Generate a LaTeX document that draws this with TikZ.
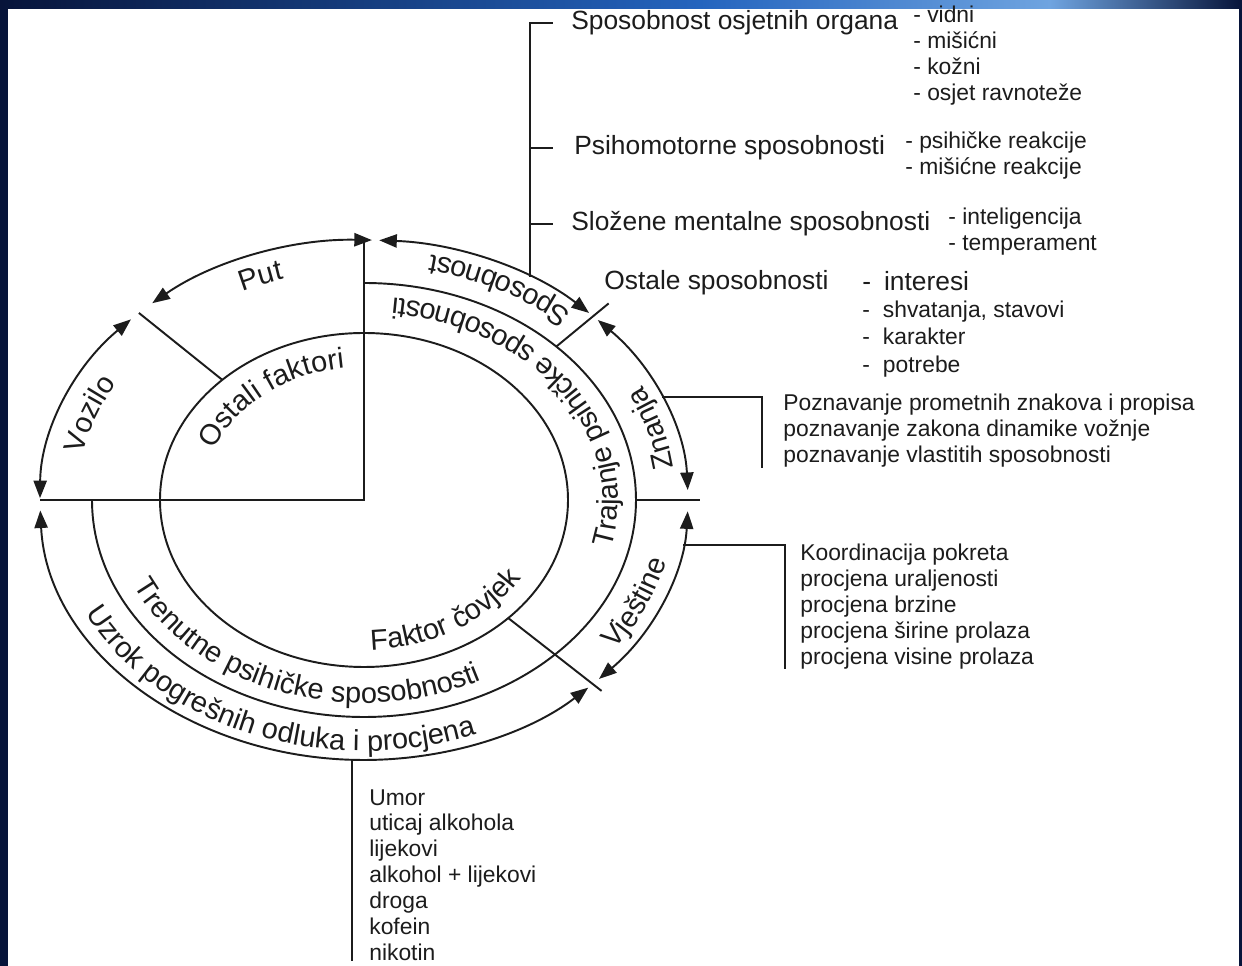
\documentclass[tikz,border=0pt]{standalone}
\usepackage{fontspec}
\setmainfont{Liberation Sans}
\usetikzlibrary{arrows.meta,decorations.text}

\definecolor{ink}{HTML}{1C1C1C}
\definecolor{navy}{HTML}{07143A}
\definecolor{slide}{HTML}{2464BE}
\definecolor{glow}{HTML}{6FA4E0}

\newcommand{\lbl}{\fontsize{15}{18}\selectfont}
\newcommand{\arclbl}{\fontsize{16.5}{19}\selectfont}
\newcommand{\lst}{\fontsize{13}{14.7}\selectfont}
\newcommand{\crt}{-\hspace{0.26cm}}

\tikzset{
  ring/.style={line width=1.1pt, draw=ink},
  arc arrow/.style={ring, {Triangle[length=10pt,width=7.5pt]}-{Triangle[length=10pt,width=7.5pt]}},
  lab/.style={font=\lbl, text=ink, inner sep=0pt, anchor=base west},
  items/.style={font=\lst, text=ink, inner sep=0pt, anchor=north west, align=left},
  along/.style={decorate, decoration={text along path, text align=center, text={|\arclbl\color{ink}|#1}}}
}

\begin{document}
\begin{tikzpicture}[x=0.02cm, y=0.02cm]
  \useasboundingbox (-364,-466) rectangle (878,500);
  % slide frame
  \fill[white] (-364,-466) rectangle (878,500);
  \shade[left color=navy, right color=slide] (-364,491) rectangle (336,500);
  \shade[left color=slide, right color=glow] (336,491) rectangle (686,500);
  \shade[left color=glow, right color=navy] (686,491) rectangle (878,500);
  \fill[navy] (-364,-466) rectangle (-356,491);
  \fill[navy] (875,-466) rectangle (878,491);

  % rings and sectors
  \draw[ring] (0,0) ellipse [x radius=204, y radius=167];
  \draw[ring] (0,217) arc[start angle=90, end angle=-180, x radius=272, y radius=217];
  \draw[ring] (90:324 and 260) -- (0,0) -- (180:324 and 260);
  \draw[ring] (134:324 and 260) -- (134:204 and 167);
  \draw[ring] (45:272 and 217) -- (45:346 and 278);
  \draw[ring] (0:272 and 217) -- (0:336 and 270);
  \draw[ring] (-45:204 and 167) -- (-45:336 and 270);

  % outer arrows
  \draw[arc arrow] (88.6:324 and 260) arc[start angle=88.6, end angle=130.8, x radius=324, y radius=260];
  \draw[arc arrow] (136:324 and 260) arc[start angle=136, end angle=179.6, x radius=324, y radius=260];
  \draw[arc arrow] (182.3:324 and 260) arc[start angle=182.3, end angle=313.8, x radius=324, y radius=260];
  \draw[arc arrow] (316.5:324 and 260) arc[start angle=316.5, end angle=357.5, x radius=324, y radius=260];
  \draw[arc arrow] (2.2:324 and 260) arc[start angle=2.2, end angle=43.8, x radius=324, y radius=260];
  \draw[arc arrow] (46:324 and 260) arc[start angle=46, end angle=87.3, x radius=324, y radius=260];

  % texts along the rings
  \path[along=Put] (131:287 and 230) arc[start angle=131, end angle=91, x radius=287, y radius=230];
  \path[along=Vozilo] (180:287 and 230) arc[start angle=180, end angle=139, x radius=287, y radius=230];
  \path[along=Ostali faktori] (178:162 and 133) arc[start angle=178, end angle=80, x radius=162, y radius=133];
  \path[along=Faktor čovjek] (-100:184 and 150) arc[start angle=-100, end angle=-17, x radius=184, y radius=150];
  \path[along=Trajanje psihičke sposobnosti] (-38:254 and 203) arc[start angle=-38, end angle=104, x radius=254, y radius=203];
  \path[along=Trenutne psihičke sposobnosti] (185:254 and 203) arc[start angle=185, end angle=315, x radius=254, y radius=203];
  \path[along=Sposobnost] (38:312 and 251) arc[start angle=38, end angle=87, x radius=312, y radius=251];
  \path[along=Znanja] (0:312 and 251) arc[start angle=0, end angle=34, x radius=312, y radius=251];
  \path[along=Vještine] (-45:312 and 251) arc[start angle=-45, end angle=-5, x radius=312, y radius=251];
  \path[along=Uzrok pogrešnih odluka i procjena] (185:312 and 251) arc[start angle=185, end angle=310, x radius=312, y radius=251];

  % labels and lists
  \node[lab] (sens) at (207,470) {Sposobnost osjetnih organa};
  \node[lab] (psiho) at (210,345) {Psihomotorne sposobnosti};
  \node[lab] (mental) at (207,269) {Složene mentalne sposobnosti};
  \node[lab] (ostale) at (240,210) {Ostale sposobnosti};
  \node[items] (organi) at (549,494) {- vidni\\- mišićni\\- kožni\\- osjet ravnoteže};
  \node[items] (reakcije) at (541,368) {- psihičke reakcije\\- mišićne reakcije};
  \node[items] (osobine) at (584,292) {- inteligencija\\- temperament};
  \node[items, font=\fontsize{13}{15.5}\selectfont] (stavovi) at (498,229)
    {{\lbl\crt interesi}\\\crt shvatanja, stavovi\\\crt karakter\\\crt potrebe};
  \node[items] (znanja) at (419,106)
    {Poznavanje prometnih znakova i propisa\\poznavanje zakona dinamike vožnje\\poznavanje vlastitih sposobnosti};
  \node[items] (vjestine) at (436,-44)
    {Koordinacija pokreta\\procjena uraljenosti\\procjena brzine\\procjena širine prolaza\\procjena visine prolaza};
  \node[items] (uzroci) at (5,-289)
    {Umor\\uticaj alkohola\\lijekovi\\alkohol + lijekovi\\droga\\kofein\\nikotin};

  % connectors
  \coordinate (spine) at (59.2:324 and 260);
  \coordinate (zn) at (23.3:324 and 260);
  \coordinate (vj) at (-10:324 and 260);
  \coordinate (uz) at (-92.1:324 and 260);
  \draw[ring] (spine) |- ([xshift=-0.36cm]sens.west);
  \draw[ring] (spine |- psiho.west) -- ([xshift=-0.42cm]psiho.west);
  \draw[ring] (spine |- mental.west) -- ([xshift=-0.36cm]mental.west);
  \draw[ring] (zn) -| ([xshift=-0.42cm]znanja.south west);
  \draw[ring] (vj) -| ([xshift=-0.3cm]vjestine.south west);
  \draw[ring] (uz) -- (uz |- uzroci.south);
\end{tikzpicture}
\end{document}
